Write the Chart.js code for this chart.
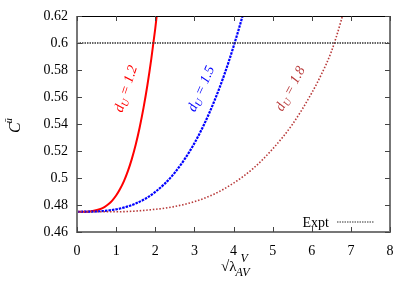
<!DOCTYPE html>
<html>
<head>
<meta charset="utf-8">
<script src="https://cdn.jsdelivr.net/npm/chart.js@4/dist/chart.umd.min.js"></script>
<style>
  html, body { margin: 0; padding: 0; background: #fff; }
  #wrap { width: 415px; height: 291px; }
</style>
</head>
<body>
<div id="wrap"><canvas id="c" width="415" height="291"></canvas></div>
<script>
// values
const X_TICKS = [0, 1, 2, 3, 4, 5, 6, 7, 8];
const Y_TICKS = [0.46, 0.48, 0.5, 0.52, 0.54, 0.56, 0.58, 0.6, 0.62];

const RED_X = [0, 0.25, 0.4, 0.6, 0.7, 0.8, 0.9, 1.0, 1.1, 1.2, 1.3, 1.4, 1.5, 1.6, 1.7, 1.8, 1.9, 2.0, 2.1];
const RED_Y = [0.475, 0.475, 0.4755, 0.477, 0.4784, 0.4805, 0.4833, 0.487, 0.4918, 0.4977, 0.5051, 0.514, 0.5246, 0.5372, 0.5519, 0.5689, 0.5884, 0.6107, 0.636];

const BLUE_X = [0, 0.5, 1.0, 1.25, 1.5, 1.75, 2.0, 2.25, 2.5, 2.75, 3.0, 3.25, 3.5, 3.75, 4.0, 4.25, 4.4];
const BLUE_Y = [0.475, 0.4752, 0.4768, 0.4785, 0.4811, 0.4847, 0.4897, 0.496, 0.504, 0.5139, 0.5257, 0.5398, 0.5563, 0.5753, 0.5973, 0.622, 0.6387];

const BROWN_X = [0, 1, 2, 2.5, 3, 3.5, 4, 4.5, 5, 5.5, 6, 6.25, 6.5, 6.75, 7.0];
const BROWN_Y = [0.475, 0.475, 0.4768, 0.4789, 0.4825, 0.488, 0.4962, 0.507, 0.5215, 0.5395, 0.563, 0.577, 0.5935, 0.6165, 0.645];

const EXPT_X = [0, 8];
const EXPT_Y = [0.6, 0.6];

const SERIF = '"Liberation Serif", "DejaVu Serif", serif';

function pts(xs, ys) { return xs.map((x, i) => ({ x, y: ys[i] })); }

// rotated curve labels, anchored in data units
const curveLabels = [
  { x: 1.26, y: 0.566, angle: -72, text: "1.2", color: "#ff0000" },
  { x: 3.18, y: 0.566, angle: -66, text: "1.5", color: "#0000ff" },
  { x: 5.46, y: 0.566, angle: -62, text: "1.8", color: "#b83a3a" },
];

const decor = {
  id: "decor",
  afterDraw(chart) {
    const { ctx, chartArea: a, scales } = chart;
    const sx = scales.x, sy = scales.y;
    ctx.save();

    // frame
    ctx.strokeStyle = "#777"; ctx.lineWidth = 2;
    ctx.beginPath();
    ctx.moveTo(a.left, a.top); ctx.lineTo(a.left, a.bottom); ctx.lineTo(a.right, a.bottom); ctx.lineTo(a.right, a.top);
    ctx.stroke();
    ctx.strokeStyle = "#000"; ctx.lineWidth = 1;
    ctx.beginPath(); ctx.moveTo(a.left, a.top + 0.5); ctx.lineTo(a.right, a.top + 0.5); ctx.stroke();

    // inward ticks on all sides
    ctx.strokeStyle = "#444"; ctx.lineWidth = 1;
    ctx.beginPath();
    X_TICKS.forEach(v => {
      const p = Math.round(sx.getPixelForValue(v)) + 0.5;
      ctx.moveTo(p, a.bottom); ctx.lineTo(p, a.bottom - 5);
      ctx.moveTo(p, a.top); ctx.lineTo(p, a.top + 5);
    });
    Y_TICKS.forEach(v => {
      const p = Math.round(sy.getPixelForValue(v)) + 0.5;
      ctx.moveTo(a.left, p); ctx.lineTo(a.left + 5, p);
      ctx.moveTo(a.right, p); ctx.lineTo(a.right - 5, p);
    });
    ctx.stroke();

    // curve labels  d_U = ...
    curveLabels.forEach(l => {
      const px = sx.getPixelForValue(l.x), py = sy.getPixelForValue(l.y);
      ctx.save();
      ctx.translate(px, py);
      ctx.rotate(l.angle * Math.PI / 180);
      ctx.fillStyle = l.color;
      ctx.textBaseline = "middle";
      ctx.font = "italic 14px " + SERIF;
      const w1 = ctx.measureText("d").width;
      const rest = " = " + l.text;
      const w3 = ctx.measureText(rest).width;
      ctx.font = "italic 10px " + SERIF;
      const w2 = ctx.measureText("U").width;
      let x0 = -(w1 + w2 + w3) / 2;
      ctx.font = "italic 14px " + SERIF;
      ctx.fillText("d", x0, 0);
      ctx.font = "italic 10px " + SERIF;
      ctx.fillText("U", x0 + w1, 4);
      ctx.font = "italic 14px " + SERIF;
      ctx.fillText(rest, x0 + w1 + w2, 0);
      ctx.restore();
    });

    // key
    ctx.fillStyle = "#000";
    ctx.font = "14px " + SERIF;
    ctx.textAlign = "right"; ctx.textBaseline = "alphabetic";
    ctx.fillText("Expt", a.right - 61, a.bottom - 5);
    ctx.strokeStyle = "#333"; ctx.lineWidth = 1.2; ctx.setLineDash([1.5, 1]);
    ctx.beginPath(); ctx.moveTo(a.right - 53, a.bottom - 10); ctx.lineTo(a.right - 16, a.bottom - 10); ctx.stroke();
    ctx.setLineDash([]);

    // x title  sqrt(lambda)_AV^V
    ctx.textAlign = "left";
    ctx.font = "15px " + SERIF;
    const tx = 221, ty = 271;
    ctx.fillText("√λ", tx, ty);
    const wl = ctx.measureText("√λ").width;
    ctx.font = "italic 12px " + SERIF;
    ctx.fillText("AV", tx + wl - 1, ty + 5);
    ctx.fillText("V", tx + wl + 4, ty - 9);

    // y title  C^u-bar
    ctx.save();
    ctx.translate(20, 133);
    ctx.rotate(-Math.PI / 2);
    ctx.font = "italic 16px " + SERIF;
    ctx.fillText("C", 0, 0);
    const wc = ctx.measureText("C").width;
    ctx.font = "italic 10px " + SERIF;
    ctx.fillText("ū", wc - 1, -8);
    ctx.restore();

    ctx.restore();
  }
};

new Chart(document.getElementById("c").getContext("2d"), {
  type: "line",
  data: {
    datasets: [
      { data: pts(EXPT_X, EXPT_Y), borderColor: "#333", borderWidth: 1.6, borderDash: [1.5, 1] },
      { data: pts(BROWN_X, BROWN_Y), borderColor: "#b83a3a", borderWidth: 1.6, borderDash: [1.5, 1.8], cubicInterpolationMode: "monotone" },
      { data: pts(BLUE_X, BLUE_Y), borderColor: "#0000ff", borderWidth: 2.2, borderDash: [2.5, 1], cubicInterpolationMode: "monotone" },
      { data: pts(RED_X, RED_Y), borderColor: "#ff0000", borderWidth: 2, cubicInterpolationMode: "monotone" },
    ]
  },
  options: {
    responsive: false,
    animation: false,
    events: [],
    elements: { point: { radius: 0 } },
    layout: { padding: { left: 0, right: 25, top: 16, bottom: 0 } },
    plugins: { legend: { display: false }, tooltip: { enabled: false } },
    scales: {
      x: {
        type: "linear", min: 0, max: 8,
        afterBuildTicks: s => { s.ticks = X_TICKS.map(v => ({ value: v })); },
        afterFit: s => { s.height = 59; },
        grid: { display: false },
        border: { display: false },
        ticks: { color: "#000", font: { family: SERIF, size: 14 }, padding: 3, maxRotation: 0 },
      },
      y: {
        min: 0.46, max: 0.62,
        afterBuildTicks: s => { s.ticks = Y_TICKS.map(v => ({ value: v })); },
        afterFit: s => { s.width = 77; },
        grid: { display: false },
        border: { display: false },
        ticks: { color: "#000", font: { family: SERIF, size: 14 }, padding: 1, callback: v => String(+v.toFixed(2)) },
      }
    }
  },
  plugins: [decor]
});
</script>
</body>
</html>
